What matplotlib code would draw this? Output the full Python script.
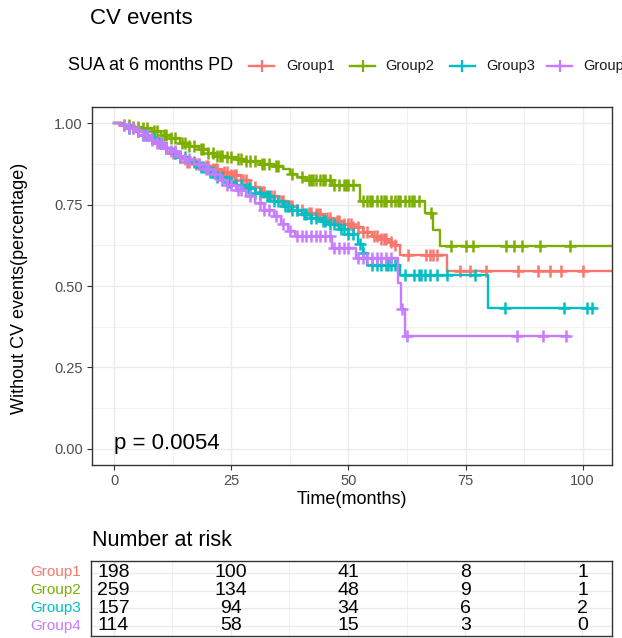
import numpy as np
import matplotlib
matplotlib.use('Agg')
import matplotlib.pyplot as plt
from matplotlib.lines import Line2D
from matplotlib.ticker import MultipleLocator

plt.rcParams['font.family'] = ['Liberation Sans', 'DejaVu Sans']

groups = ['Group1', 'Group2', 'Group3', 'Group4']
colors = ['#F8766D', '#7CAE00', '#00BFC4', '#C77CFF']

# Kaplan-Meier step data (time of drop, survival after drop)
g1_t = [0, 1.5, 3, 4.5, 6, 7.5, 9, 10.5, 12, 13.5, 15, 17, 19, 21, 23, 25, 27, 29, 31, 33, 35, 37, 39, 41,
        43, 45, 47, 49, 51, 53, 55, 57, 58.5, 59.5, 61, 71]
g1_s = [1, 0.995, 0.985, 0.975, 0.965, 0.955, 0.94, 0.925, 0.91, 0.895, 0.88, 0.875, 0.87, 0.86, 0.85, 0.84,
        0.825, 0.805, 0.79, 0.775, 0.76, 0.745, 0.735, 0.725, 0.72, 0.71, 0.70, 0.69, 0.68, 0.665, 0.655,
        0.645, 0.635, 0.625, 0.595, 0.547]
g1_end = 107
g1_cens = [2, 3, 4, 5, 6.5, 8, 9.5, 10, 11, 12.5, 13, 14, 15.5, 16, 17.5, 18, 19.5, 20, 21, 21.5, 22, 23.5,
           24, 25, 25.5, 26, 27.5, 28, 30, 31.5, 32, 33.5, 34, 35.5, 36, 37, 37.5, 38, 39, 40, 41.5, 42,
           43, 43.5, 44, 45.5, 46, 47.5, 48, 49, 50, 50.5, 51, 52, 53, 54, 55.5, 56, 57, 57.5, 58, 59,
           60, 62.8, 66.6, 67.4, 68, 69, 73.8, 76, 79.4, 86.2, 90.4, 93, 95.3, 100]

g2_t = [0, 2, 4, 6, 8, 10, 12, 14, 16, 18, 20, 22, 24, 26, 28, 31, 34, 36, 37.5, 39, 41, 46.4, 52.5,
        66.4, 68, 69.6]
g2_s = [1, 0.995, 0.99, 0.985, 0.975, 0.965, 0.955, 0.94, 0.93, 0.92, 0.91, 0.90, 0.895, 0.89, 0.885,
        0.875, 0.87, 0.86, 0.845, 0.835, 0.825, 0.81, 0.762, 0.724, 0.672, 0.623]
g2_end = 107
g2_cens = [3, 4, 5, 6, 7, 8.5, 9, 10.5, 11, 12, 13, 14.5, 15, 16, 17, 18.5, 19, 20, 21, 22, 22.5, 23,
           24, 25, 26.5, 27, 28, 29, 30, 31.5, 32, 33, 34.5, 35, 38, 40, 41.5, 42, 42.5, 43, 44, 44.5,
           45, 46, 47, 48, 49, 49.5, 50, 51, 53, 54, 54.5, 55, 56, 57, 57.5, 58, 59, 60, 60.5, 61, 62,
           63, 63.5, 64, 65, 67.7, 72, 75, 76.6, 83.6, 85.3, 87, 91, 97.4]

g3_t = [0, 1.5, 3, 4.5, 6, 7.5, 9, 10.5, 12, 14, 16, 18, 20, 22, 24, 26, 28, 30, 32, 34, 36, 38, 40, 42,
        44, 46, 48, 50, 52, 53, 54, 61, 79.8]
g3_s = [1, 0.995, 0.985, 0.975, 0.965, 0.955, 0.94, 0.925, 0.91, 0.895, 0.88, 0.865, 0.85, 0.835, 0.82,
        0.81, 0.80, 0.785, 0.775, 0.76, 0.745, 0.735, 0.72, 0.71, 0.70, 0.69, 0.675, 0.66, 0.63, 0.60,
        0.565, 0.534, 0.432]
g3_end = 102.5
g3_cens = [3, 5, 6, 7, 8.5, 10, 11, 13, 14, 15, 17, 18.5, 19, 20.5, 21, 22, 23, 24.5, 25, 26, 27, 28.5,
           29, 30, 31, 32.5, 33, 34, 35, 36.5, 37, 38, 39, 40.5, 41, 42, 43, 44.5, 45, 46, 47, 48.5, 49,
           50, 51, 52.5, 53.2, 55, 56, 57, 58, 58.5, 59, 60, 62, 64, 65, 65.5, 66.4, 67.4, 69, 71, 77,
           83.4, 96, 101, 102]

g4_t = [0, 1.5, 3, 4.5, 6, 7.5, 9, 10.5, 12, 13.5, 15, 17, 19, 21, 22.5, 24, 26, 28, 30, 32, 34, 35.5,
        37, 38.5, 46.4, 51.7, 60.6, 61.2, 62]
g4_s = [1, 0.995, 0.985, 0.975, 0.965, 0.95, 0.94, 0.925, 0.915, 0.90, 0.89, 0.875, 0.86, 0.845, 0.825,
        0.81, 0.795, 0.775, 0.755, 0.735, 0.715, 0.69, 0.67, 0.655, 0.617, 0.585, 0.51, 0.43, 0.345]
g4_end = 96.8
g4_cens = [2, 3, 4, 5, 6, 7, 8, 9, 10, 11, 12, 13, 14, 15, 16, 18, 19.5, 20, 21.5, 23, 24, 25, 26.5, 27,
           29, 31, 32, 33, 34.5, 36, 37.5, 39, 40, 41, 42, 43, 44, 45, 46, 47, 48, 49, 50, 52, 53, 54,
           55, 56, 57, 58, 59, 61.5, 62.6, 86, 91.5, 96.4]

risk_times = [0, 25, 50, 75, 100]
risk_g1 = [198, 100, 41, 8, 1]
risk_g2 = [259, 134, 48, 9, 1]
risk_g3 = [157, 94, 34, 6, 2]
risk_g4 = [114, 58, 15, 3, 0]

p_text = 'p = 0.0054'

curves = [(g1_t, g1_s, g1_end, g1_cens), (g2_t, g2_s, g2_end, g2_cens),
          (g3_t, g3_s, g3_end, g3_cens), (g4_t, g4_s, g4_end, g4_cens)]
risks = [risk_g1, risk_g2, risk_g3, risk_g4]

W, H = 622, 638
fig = plt.figure(figsize=(W / 100, H / 100), dpi=100)

def fx(px):
    return px / W

def fy(py):
    return 1 - py / H

border = '#333333'
gridc = '#EBEBEB'
XL = (-4.8, 106.3)

ax = fig.add_axes([fx(92), fy(465), fx(612) - fx(92), fy(107) - fy(465)])
ax.set_xlim(*XL)
ax.set_ylim(-0.05, 1.05)
ax.xaxis.set_major_locator(MultipleLocator(25))
ax.xaxis.set_minor_locator(MultipleLocator(12.5))
ax.yaxis.set_major_locator(MultipleLocator(0.25))
ax.yaxis.set_minor_locator(MultipleLocator(0.125))
ax.grid(which='major', color=gridc, lw=1.0)
ax.grid(which='minor', color=gridc, lw=0.5)
ax.set_axisbelow(True)
ax.tick_params(which='minor', length=0)
ax.tick_params(which='major', length=3.6, width=0.8, color='#333333', labelcolor='#4D4D4D',
               labelsize=10.5, pad=3)
ax.set_yticks([0, 0.25, 0.5, 0.75, 1.0])
ax.set_yticklabels(['0.00', '0.25', '0.50', '0.75', '1.00'])
for sp in ax.spines.values():
    sp.set_color(border)
    sp.set_linewidth(1.0)

for (t, s, tend, cens), col in zip(curves, colors):
    tt = list(t) + [tend]
    ss = list(s) + [s[-1]]
    ax.step(tt, ss, where='post', color=col, lw=1.7, clip_on=True)
    c = np.array(cens, dtype=float)
    idx = np.searchsorted(np.array(t, dtype=float), c, side='right') - 1
    cy = np.array(s)[idx]
    ax.plot(c, cy, linestyle='none', marker='+', ms=8.5, mew=1.8, color=col)

ax.text(0, 0.0, p_text, fontsize=16, ha='left', va='baseline', color='black')
ax.set_xlabel('Time(months)', fontsize=13, labelpad=2)
fig.text(fx(20), fy(288), 'Without CV events(percentage)', fontsize=13, rotation=90,
         ha='center', va='center')

# Title
fig.text(fx(90), fy(19), 'CV events', fontsize=16, ha='left', va='center')

# Legend (manual)
ly = fy(66)
fig.text(fx(68), ly, 'SUA at 6 months PD', fontsize=13, ha='left', va='center')
key_x = [249, 350, 450, 547]
txt_x = [286, 385, 486, 583]
for kx, tx, g, col in zip(key_x, txt_x, groups, colors):
    fig.add_artist(Line2D([fx(kx), fx(kx + 25)], [ly, ly], transform=fig.transFigure, color=col, lw=1.7))
    fig.add_artist(Line2D([fx(kx + 12.5)], [ly], transform=fig.transFigure, color=col, marker='+',
                          ms=9, mew=1.6, linestyle='none'))
    fig.text(fx(tx), ly, g, fontsize=10.5, ha='left', va='center', color='#1A1A1A')

# Risk table
fig.text(fx(92), fy(541), 'Number at risk', fontsize=15.5, ha='left', va='center')
tax = fig.add_axes([fx(91), fy(636), fx(612) - fx(91), fy(561) - fy(636)])
tax.set_xlim(*XL)
tax.set_ylim(4.58, 0.32)
tax.set_xticks([0, 25, 50, 75, 100])
tax.set_xticks([12.5, 37.5, 62.5, 87.5], minor=True)
tax.set_yticks([1, 2, 3, 4])
tax.grid(which='major', color=gridc, lw=1.0)
tax.grid(which='minor', axis='x', color=gridc, lw=0.5)
tax.set_axisbelow(True)
tax.tick_params(which='both', length=0, labelbottom=False, labelleft=False)
for sp in tax.spines.values():
    sp.set_color(border)
    sp.set_linewidth(1.0)
for i, (r, g, col) in enumerate(zip(risks, groups, colors)):
    row = i + 1
    for tx, v in zip(risk_times, r):
        tax.text(tx, row, str(v), fontsize=14, ha='center', va='center', color='black')
    fig.text(fx(81), fy(572 + 18 * i), g, fontsize=11, ha='right', va='center', color=col)

fig.savefig('out.png', dpi=100)
